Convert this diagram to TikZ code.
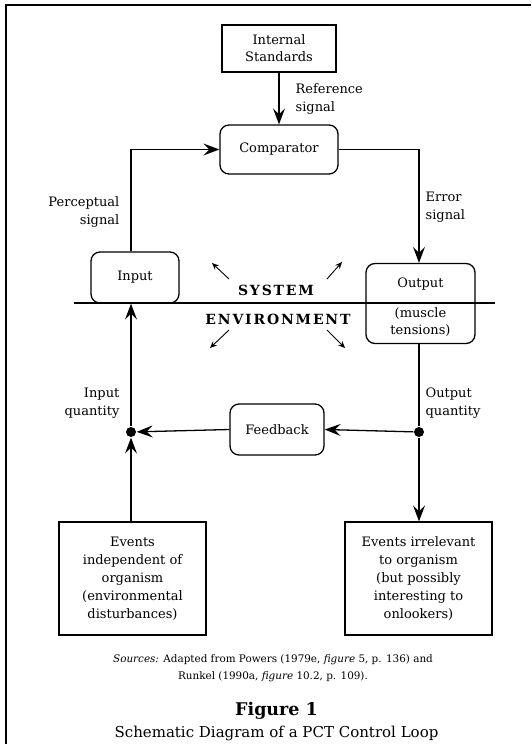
\documentclass[tikz,border=0pt]{standalone}
\usepackage{fontspec}
\setmainfont{DejaVu Serif}
\usepackage{tikz}
\usetikzlibrary{positioning, arrows.meta}
\newcommand{\Letrero}[1]{{\bfseries\addfontfeatures{LetterSpace=13}#1}}

\begin{document}
\begin{tikzpicture}[x=1pt, y=-1pt, line width=1.3pt,
    font=\fontsize{13}{18}\selectfont,
    caja/.style={draw, rectangle, align=center, inner sep=0pt},
    redonda/.style={draw, rounded corners=9pt, align=center, inner sep=0pt},
    punto/.style={circle, fill=black, inner sep=0pt, minimum size=10pt},
    flecha/.style={-{Stealth[length=16pt, width=12pt, inset=6pt]}},
    flechita/.style={-{Stealth[length=7pt, width=6pt, inset=2.5pt]}, line width=0.9pt},
    etiqueta/.style={inner sep=0pt}]
    \useasboundingbox (0,0) rectangle (531,744);
    % Marco de la figura
    \draw[line width=2.3pt] (531,5) -- (6,5) -- (6,744);
    % Bloques del sistema
    \node[caja, minimum width=114pt, minimum height=47pt] (std) at (279,48.5) {Internal\\[-1pt]Standards};
    \node[redonda, minimum width=118pt, minimum height=49pt] (comp) at (279,149.5) {Comparator};
    \node[redonda, minimum width=88pt, minimum height=51pt] (inp) at (135,277.5) {Input};
    \node[redonda, minimum width=109pt, minimum height=80pt] (outp) at (420.5,303.5) {};
    \node (outtxt) at (420.5,284) {Output};
    \node[align=center, font=\fontsize{13}{17}\selectfont] (musc) at (420.5,322) {(muscle\\tensions)};
    % Bloques del entorno
    \node[redonda, minimum width=94pt, minimum height=51pt] (feed) at (277,429.5) {Feedback};
    \node[punto] (ldot) at (131,432) {};
    \node[punto] (rdot) at (419,432) {};
    \node[caja, minimum width=147pt, minimum height=113pt] (ev1) at (132.5,578.5) {Events\\independent of\\organism\\(environmental\\disturbances)};
    \node[caja, minimum width=147pt, minimum height=113pt] (ev2) at (418.5,578.5) {Events irrelevant\\to organism\\(but possibly\\interesting to\\onlookers)};
    % Frontera sistema / entorno
    \coordinate (fronizq) at (74,303);
    \coordinate (fronder) at (495,303);
    \draw (fronizq) -- (fronder);
    \node (sys) at (276,290) {\fontsize{14}{16}\selectfont\Letrero{SYSTEM}};
    \node (env) at (278,319) {\fontsize{14}{16}\selectfont\Letrero{ENVIRONMENT}};
    \foreach \a/\b/\c/\d in {229/279/212/263, 327/279/342/262, 229/330/210/348, 327/330/345/348}
        \draw[flechita] (\a,\b) -- (\c,\d);
    % Lazo de control
    \draw[flecha] (std) -- (comp);
    \draw[flecha] (ldot |- inp.north) |- (comp.west);
    \draw[flecha] (comp.east) -| (rdot |- outp.north);
    \draw (outp.south -| rdot) -- (rdot);
    \draw[flecha] (rdot) -- (feed.east);
    \draw[flecha] (feed.west) -- (ldot);
    \draw[flecha] (ldot) -- (ldot |- inp.south);
    \draw[flecha] (ev1.north -| ldot) -- (ldot);
    \draw[flecha] (rdot) -- (ev2.north -| rdot);
    % Etiquetas de las senales
    \node[etiqueta, align=left, anchor=west] (refsig) at (295,99) {Reference\\signal};
    \node[etiqueta, align=right, anchor=east] (percsig) at (120,212) {Perceptual\\signal};
    \node[etiqueta, align=left, anchor=west] (errsig) at (425,207) {Error\\signal};
    \node[etiqueta, align=right, anchor=east] (inq) at (120,403) {Input\\quantity};
    \node[etiqueta, align=left, anchor=west] (outq) at (425,403) {Output\\quantity};
    % Pie de figura
    \node[align=center, font=\fontsize{10.4}{17}\selectfont] (fuentes) at (273,668) {\textit{Sources:} Adapted from Powers (1979e, \textit{figure} 5, p. 136) and\\Runkel (1990a, \textit{figure} 10.2, p. 109).};
    \node[font=\fontsize{17.5}{20}\selectfont\bfseries] (fig) at (276.5,711) {Figure 1};
    \node[font=\fontsize{15}{18}\selectfont] (titulo) at (276.5,733) {Schematic Diagram of a PCT Control Loop};
\end{tikzpicture}
\end{document}
